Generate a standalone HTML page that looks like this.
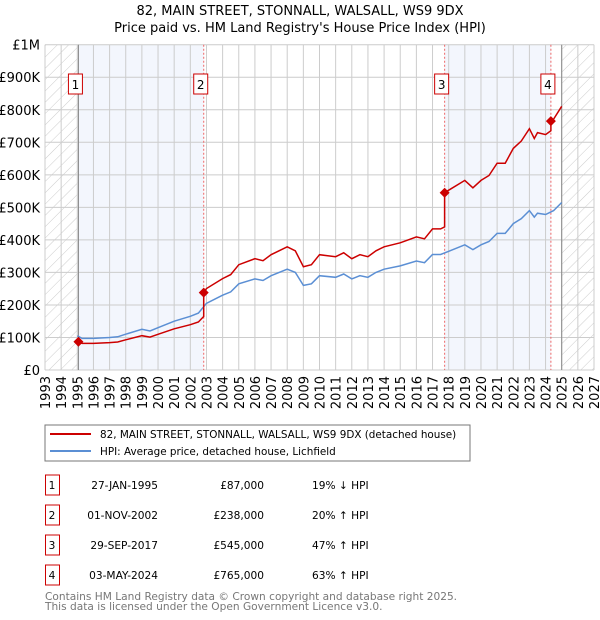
<!DOCTYPE html>
<html><head><meta charset="utf-8"><style>
body{margin:0;background:#fff;width:600px;height:620px;overflow:hidden;font-family:"DejaVu Sans","Liberation Sans",sans-serif;}
svg{position:absolute;left:0;top:0}
</style></head><body>
<svg id="chart" width="600" height="620" xmlns="http://www.w3.org/2000/svg">
<defs><pattern id="hatch" patternUnits="userSpaceOnUse" width="8" height="8" patternTransform="rotate(45)"><line x1="0" y1="0" x2="0" y2="8" stroke="#ccc" stroke-width="1"/></pattern></defs>
<text x="300" y="15" text-anchor="middle" font-size="13">82, MAIN STREET, STONNALL, WALSALL, WS9 9DX</text>
<text x="300" y="32" text-anchor="middle" font-size="13">Price paid vs. HM Land Registry's House Price Index (HPI)</text>
<g id="plot"></g>
<rect x="45" y="425" width="425" height="36" fill="#fff" stroke="#777"/>
<line x1="50" y1="434" x2="91" y2="434" stroke="#cc0000" stroke-width="2"/>
<text x="100" y="438" font-size="10.4">82, MAIN STREET, STONNALL, WALSALL, WS9 9DX (detached house)</text>
<line x1="50" y1="451" x2="91" y2="451" stroke="#5b8fd4" stroke-width="2"/>
<text x="100" y="455" font-size="10.4">HPI: Average price, detached house, Lichfield</text>
<g id="table"></g>
<text x="45" y="600" font-size="10.6" fill="#777">Contains HM Land Registry data © Crown copyright and database right 2025.</text>
<text x="45" y="610" font-size="10.6" fill="#777">This data is licensed under the Open Government Licence v3.0.</text>
</svg>
<script>
const hpiYears=[1995,1995.3,1996,1997,1997.5,1998,1999,1999.5,2000,2001,2002,2002.5,2003,2004,2004.5,2005,2006,2006.5,2007,2008,2008.5,2009,2009.5,2010,2011,2011.5,2012,2012.5,2013,2013.5,2014,2015,2016,2016.5,2017,2017.5,2018,2019,2019.5,2020,2020.5,2021,2021.5,2022,2022.5,2023,2023.3,2023.5,2024,2024.5,2025];
const hpiValues=[105000,97000,97000,100000,102000,110000,125000,120000,130000,150000,165000,175000,205000,230000,240000,265000,280000,275000,290000,310000,300000,260000,265000,290000,285000,295000,280000,290000,285000,300000,310000,320000,335000,330000,355000,355000,365000,385000,370000,385000,395000,420000,420000,450000,465000,490000,470000,482000,478000,490000,515000];
const saleYears=[1995.07,2002.83,2017.75,2024.33];
const salePrices=[87000,238000,545000,765000];
const saleDates=["27-JAN-1995","01-NOV-2002","29-SEP-2017","03-MAY-2024"];
const salePriceLabels=["£87,000","£238,000","£545,000","£765,000"];
const saleHpiLabels=["19% ↓ HPI","20% ↑ HPI","47% ↑ HPI","63% ↑ HPI"];
const yTicks=[0,100000,200000,300000,400000,500000,600000,700000,800000,900000,1000000];
const yTickLabels=["£0","£100K","£200K","£300K","£400K","£500K","£600K","£700K","£800K","£900K","£1M"];
const xStart=1993,xEnd=2027;
const X=y=>45+(y-xStart)*(549/(xEnd-xStart));
const Y=v=>370-v*325.3/1000000;
const NS="http://www.w3.org/2000/svg";
const plot=document.getElementById('plot');
function mk(tag,attrs,parent){const e=document.createElementNS(NS,tag);for(const k in attrs)e.setAttribute(k,attrs[k]);(parent||plot).appendChild(e);return e;}
function hpiAt(t){for(let i=0;i<hpiYears.length-1;i++){if(t<=hpiYears[i+1]){const f=(t-hpiYears[i])/(hpiYears[i+1]-hpiYears[i]);return hpiValues[i]+f*(hpiValues[i+1]-hpiValues[i]);}}return hpiValues[hpiValues.length-1];}
let r;
r=mk('rect',{x:X(1993),y:Y(1e6),width:X(saleYears[0])-X(1993),height:Y(0)-Y(1e6),fill:'url(#hatch)'});

r=mk('rect',{x:X(2025),y:Y(1e6),width:X(2027)-X(2025),height:Y(0)-Y(1e6),fill:'url(#hatch)'});

r=mk('rect',{x:X(saleYears[0]),y:Y(1e6),width:X(saleYears[1])-X(saleYears[0]),height:Y(0)-Y(1e6),fill:'#f3f6fd'});

r=mk('rect',{x:X(saleYears[2]),y:Y(1e6),width:X(saleYears[3])-X(saleYears[2]),height:Y(0)-Y(1e6),fill:'#f3f6fd'});

for(let i=0;i<yTicks.length;i++){
  const l=mk('line',{x1:45,x2:594,y1:Y(yTicks[i]),y2:Y(yTicks[i]),stroke:'#ccc'});
  
  const t=mk('text',{x:40,y:Y(yTicks[i])+5,'text-anchor':'end','font-size':13});t.textContent=yTickLabels[i];
  
}
for(let yr=xStart;yr<=xEnd;yr++){
  const l=mk('line',{x1:X(yr),x2:X(yr),y1:Y(1e6),y2:Y(0),stroke:'#ccc'});
  
  const t=mk('text',{x:0,y:0,'text-anchor':'end','font-size':13,transform:`translate(${X(yr)+5},376) rotate(-90)`});t.textContent=yr;
  
}
let l=mk('line',{x1:X(saleYears[0]),x2:X(saleYears[0]),y1:Y(1e6),y2:Y(0),stroke:'#888'});

l=mk('line',{x1:X(2025),x2:X(2025),y1:Y(1e6),y2:Y(0),stroke:'#888'});

for(let i=1;i<4;i++){
  l=mk('line',{x1:X(saleYears[i]),x2:X(saleYears[i]),y1:Y(1e6),y2:Y(0),stroke:'#e66','stroke-dasharray':'2,2'});
  
}
let d=hpiYears.map((t,i)=>(i?'L':'M')+X(t).toFixed(1)+','+Y(hpiValues[i]).toFixed(1)).join(' ');
let p=mk('path',{d:d,fill:'none',stroke:'#5b8fd4','stroke-width':1.5});

const ratios=saleYears.map((t,i)=>salePrices[i]/hpiAt(t));
let pts=[];
for(let s=0;s<4;s++){
  const t0=saleYears[s],t1=s<3?saleYears[s+1]:2025;
  pts.push([t0,salePrices[s]]);
  hpiYears.forEach((t,i)=>{if(t>t0&&t<t1)pts.push([t,hpiValues[i]*ratios[s]]);});
  pts.push([t1,hpiAt(t1)*ratios[s]]);
}
d=pts.map((q,i)=>(i?'L':'M')+X(q[0]).toFixed(1)+','+Y(q[1]).toFixed(1)).join(' ');
p=mk('path',{d:d,fill:'none',stroke:'#cc0000','stroke-width':1.5});

for(let i=0;i<4;i++){
  const cx=X(saleYears[i]),cy=Y(salePrices[i]);
  const m=mk('path',{d:`M${cx},${cy-5} L${cx+5},${cy} L${cx},${cy+5} L${cx-5},${cy} Z`,fill:'#cc0000'});
  
  const bx=mk('rect',{x:cx-10,y:74,width:14,height:20,fill:'#fff',stroke:'#cc0000'});
  
  const bt=mk('text',{x:cx-3,y:89,'text-anchor':'middle','font-size':12});bt.textContent=i+1;
  
}
const tbl=document.getElementById('table');
for(let i=0;i<4;i++){
  const y=485+i*30;
  const b=mk('rect',{x:45.5,y:y-10,width:14,height:20,fill:'#fff',stroke:'#cc0000'},tbl);
  
  const cells=[[52,'middle',String(i+1)],[158,'end',saleDates[i]],[264,'end',salePriceLabels[i]],[312,'start',saleHpiLabels[i]]];
  cells.forEach(c=>{const t=mk('text',{x:c[0],y:y+4,'text-anchor':c[1],'font-size':10.6},tbl);t.textContent=c[2];
    });
}
</script>
</body></html>
